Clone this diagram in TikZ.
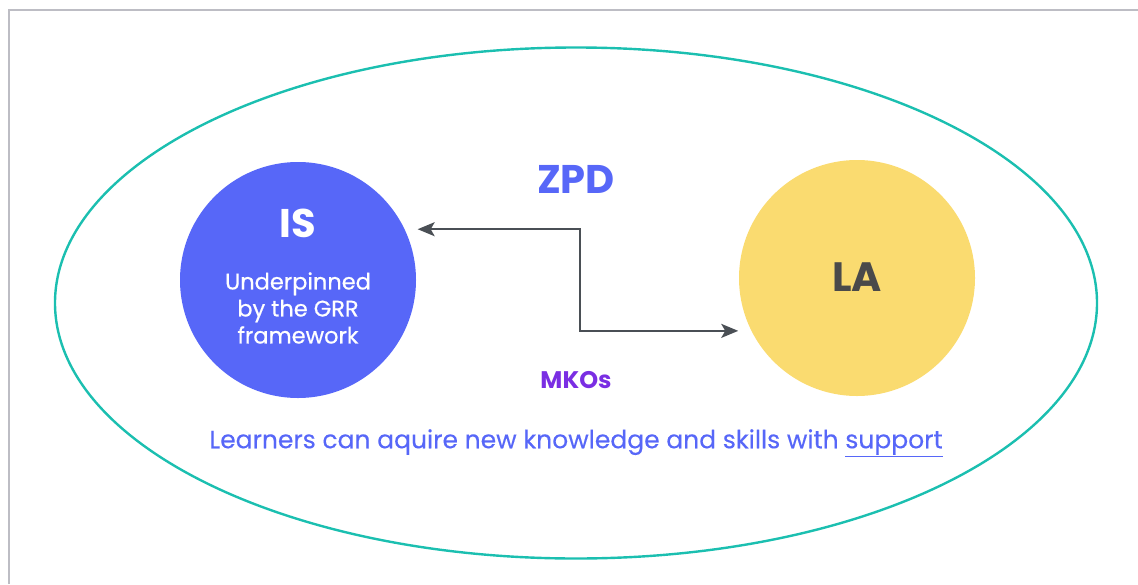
\documentclass[tikz,border=0pt]{standalone}
\usepackage{fontspec}
\setmainfont{Poppins}
\usepackage{tikz}
\usetikzlibrary{arrows.meta, positioning, shapes.geometric}
\usepackage{xcolor}

\definecolor{isblue}{HTML}{5767F8}
\definecolor{layellow}{HTML}{FADB70}
\definecolor{zoneteal}{HTML}{1BBFB0}
\definecolor{linkgray}{HTML}{4A4F55}
\definecolor{lagray}{HTML}{4A4A4A}
\definecolor{mkopurple}{HTML}{7A2EE3}
\definecolor{framegray}{HTML}{BDBDC4}

\begin{document}
\begin{tikzpicture}[x=1pt, y=1pt,
  bubble/.style={circle, minimum size=236pt, inner sep=0pt, outer sep=12pt},
  link/.style={draw=linkgray, line width=2pt, {Stealth[length=17pt, width=14pt, inset=4pt]}-{Stealth[length=17pt, width=14pt, inset=4pt]}}]
\useasboundingbox (0,0) rectangle (1138,-584);
% frame
\draw[framegray, line width=1.5pt] (9,-584) -- (9,-10) -- (1138,-10);

% zone of proximal development
\node[draw=zoneteal, line width=2.4pt, ellipse, minimum width=1042pt, minimum height=511pt] (zone) at (576,-303) {};

% circles
\node[bubble, fill=isblue] (is) at (298,-280) {};
\node[bubble, fill=layellow] (la) at (857,-278) {};

\node[text=white, font=\bfseries\fontsize{40}{40}\selectfont] (istitle) at (298,-223) {IS};
\node[text=white, font=\fontsize{22.5}{27}\selectfont\addfontfeature{FakeBold=0.6}, align=center] (isnote) at (298,-308) {Underpinned\\by the GRR\\framework};
\node[text=lagray, font=\bfseries\fontsize{41}{41}\selectfont] (latitle) at (857,-277) {LA};

% labels
\node[text=isblue, font=\bfseries\fontsize{40}{40}\selectfont] (zpd) at (576,-179) {ZPD};
\node[text=mkopurple, font=\bfseries\fontsize{24}{24}\selectfont] (mkos) at (576,-380) {MKOs};
\node[text=isblue, font=\fontsize{25}{25}\selectfont\addfontfeature{FakeBold=0.3}] (note) at (576,-443) {Learners can aquire new knowledge and skills with \underline{support}};

% scaffolding link
\coordinate (bend) at (580,-280);
\draw[link] (is.23.5) -| (bend) |- (la.204.5);
\end{tikzpicture}
\end{document}
